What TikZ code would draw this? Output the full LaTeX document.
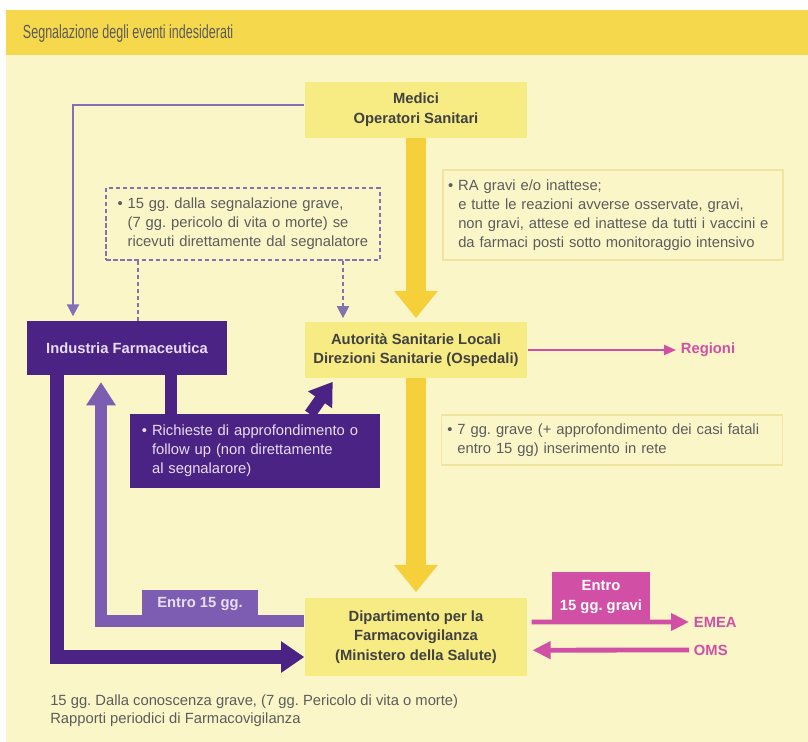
\documentclass[tikz,border=0pt]{standalone}
\usepackage{fontspec}
\setmainfont{Liberation Sans}
\newfontfamily\condfont[FakeStretch=0.66]{Liberation Sans}
\usepackage{xcolor}
\usepackage{tikz}
\usetikzlibrary{arrows.meta}
\frenchspacing

\definecolor{pale}{HTML}{FAF6C8}
\definecolor{band}{HTML}{F6D84C}
\definecolor{boxy}{HTML}{F7EB84}
\definecolor{arry}{HTML}{F5D03A}
\definecolor{noteline}{HTML}{F1E4A0}
\definecolor{darkp}{HTML}{4B2384}
\definecolor{midp}{HTML}{7D5DB2}
\definecolor{linep}{HTML}{8470B8}
\definecolor{mag}{HTML}{D24FA6}
\definecolor{txt}{HTML}{5C5C5C}
\definecolor{lavtxt}{HTML}{E8DDF2}

\newcommand{\etich}{\bfseries\fontsize{10.5}{14}\selectfont}
\newcommand{\testo}{\fontsize{10.5}{13.5}\selectfont}

\tikzset{
  ybox/.style={fill=boxy, text=txt!70!black, font=\etich, align=center, minimum width=5.57cm, inner sep=0pt},
  pbox/.style={fill=darkp, text=lavtxt, font=\etich, align=center, inner sep=0pt},
  mbox/.style={fill=midp, text=lavtxt, font=\etich, align=center, inner sep=0pt},
  magbox/.style={fill=mag, text=white, font=\etich, align=center, inner sep=0pt},
  notebox/.style={fill=pale, text=txt, font=\testo, align=left, inner ysep=0pt},
  yarrow/.style={line width=0.5cm, draw=arry, -{Triangle[width=1.05cm,length=0.68cm]}},
  thinp/.style={line width=0.05cm, draw=linep, -{Triangle[width=0.3cm,length=0.3cm]}},
  dashp/.style={line width=0.05cm, draw=linep!80!gray, dash pattern=on 3pt off 2pt},
}

\begin{document}
\begin{tikzpicture}[x=0.025cm, y=-0.025cm]
\useasboundingbox (0,0) rectangle (808,742);
\fill[white] (0,0) rectangle (808,742);
\fill[pale] (6,55) rectangle (808,742);
\fill[band] (6,10) rectangle (808,55);
\node[anchor=west, text=txt, font=\condfont\fontsize{13.5}{15}\selectfont] (title) at (18,34) {Segnalazione degli eventi indesiderati};

% caselle principali
\node[ybox, minimum height=1.38cm] (medici) at (416,110) {Medici\\Operatori Sanitari};
\node[ybox, minimum height=1.38cm] (autorita) at (416,350) {Autorità Sanitarie Locali\\Direzioni Sanitarie (Ospedali)};
\node[ybox, minimum height=1.93cm] (dip) at (416,637) {Dipartimento per la\\Farmacovigilanza\\(Ministero della Salute)};
\node[pbox, minimum width=4.98cm, minimum height=1.33cm] (industria) at (127,348) {Industria Farmaceutica};

% note
\node[notebox, draw=noteline, line width=0.03cm, text width=8.24cm, minimum height=2.25cm, inner xsep=0.13cm] (ra) at (613,215) {\begin{tabular}{@{}l@{~}l@{}}\textbullet & RA gravi e/o inattese;\\ & e tutte le reazioni avverse osservate, gravi,\\ & non gravi, attese ed inattese da tutti i vaccini e\\ & da farmaci posti sotto monitoraggio intensivo\end{tabular}};
\node[notebox, draw=noteline, line width=0.03cm, text width=8.23cm, minimum height=1.25cm, inner xsep=0.15cm] (sette) at (612,440) {\begin{tabular}{@{}l@{~}l@{}}\textbullet & 7 gg. grave (+ approfondimento dei casi fatali\\ & entro 15 gg) inserimento in rete\end{tabular}};
\node[notebox, dashp, text width=6.27cm, minimum height=1.8cm, inner xsep=0.28cm] (diretti) at (243,224) {\begin{tabular}{@{}l@{~}l@{}}\textbullet & 15 gg. dalla segnalazione grave,\\ & (7 gg. pericolo di vita o morte) se\\ & ricevuti direttamente dal segnalatore\end{tabular}};
\node[pbox, font=\testo, align=left, text width=5.65cm, minimum height=1.83cm, inner xsep=0.3cm] (richieste) at (255,451) {\begin{tabular}{@{}l@{~}l@{}}\textbullet & Richieste di approfondimento o\\ & follow up (non direttamente\\ & al segnalarore)\end{tabular}};

\coordinate (ml) at (73,0);
\coordinate (dl) at (138,0);
\coordinate (dr) at (343,0);
\coordinate (rc) at (171,0);
\coordinate (ds) at (310,0);
\coordinate (dk) at (57,0);
\coordinate (md) at (101,0);

% frecce gialle
\draw[yarrow, shorten >=0.1cm] (medici.south) -- (autorita.north);
\draw[yarrow, shorten >=0.15cm] (autorita.south) -- (dip.north);

% segnalatore -> industria
\draw[thinp, shorten >=0.12cm] ([yshift=0.12cm]medici.west) -| (industria.north -| ml);
\draw[dashp] (diretti.south -| dl) -- (industria.north -| dl);
\draw[dashp, -{Triangle[width=0.3cm,length=0.3cm]}, shorten >=0.1cm] (diretti.south -| dr) -- (autorita.north -| dr);

% industria -> richieste -> autorita
\draw[darkp, line width=0.3cm] (industria.south -| rc) -- (richieste.north -| rc);
\draw[darkp, line width=0.3cm, -{Triangle[width=0.7cm,length=0.55cm]}, shorten >=0.12cm] (richieste.north -| ds) -- ([xshift=0.78cm]autorita.south west);

% industria <-> dipartimento
\draw[darkp, line width=0.33cm, -{Triangle[width=0.75cm,length=0.58cm]}] (industria.south -| dk) |- ([yshift=-0.5cm]dip.west);
\draw[midp, line width=0.3cm, -{Triangle[width=0.7cm,length=0.58cm]}, shorten >=0.18cm] ([yshift=0.4cm]dip.west) -| (industria.south -| md);
\node[mbox, minimum width=2.9cm, minimum height=0.72cm] (entro) at (200,604) {Entro 15 gg.};

% regioni, EMEA, OMS
\node[anchor=west, text=mag, font=\etich] (regioni) at (676,350) {Regioni};
\draw[mag, line width=0.05cm, -{Triangle[width=0.25cm,length=0.3cm]}] (autorita.east) -- (regioni.west);
\node[anchor=west, text=mag, font=\etich] (emea) at (689,622) {EMEA};
\node[anchor=west, text=mag, font=\etich] (oms) at (689,650) {OMS};
\draw[mag, line width=0.12cm, -{Triangle[width=0.42cm,length=0.45cm]}, shorten <=0.1cm] ([yshift=0.375cm]dip.east) -- (emea.west);
\draw[mag, line width=0.12cm, -{Triangle[width=0.42cm,length=0.45cm]}, shorten >=0.12cm] (oms.west) -- ([yshift=-0.33cm]dip.east);
\node[magbox, minimum width=2.45cm, minimum height=1.23cm] (gravi) at (601,597) {Entro\\15 gg. gravi};

% nota finale
\node[anchor=north west, text=txt, font=\fontsize{10.5}{12.5}\selectfont, align=left, inner sep=0pt] (nota) at (50,695) {15 gg. Dalla conoscenza grave, (7 gg. Pericolo di vita o morte)\\Rapporti periodici di Farmacovigilanza};
\end{tikzpicture}
\end{document}
